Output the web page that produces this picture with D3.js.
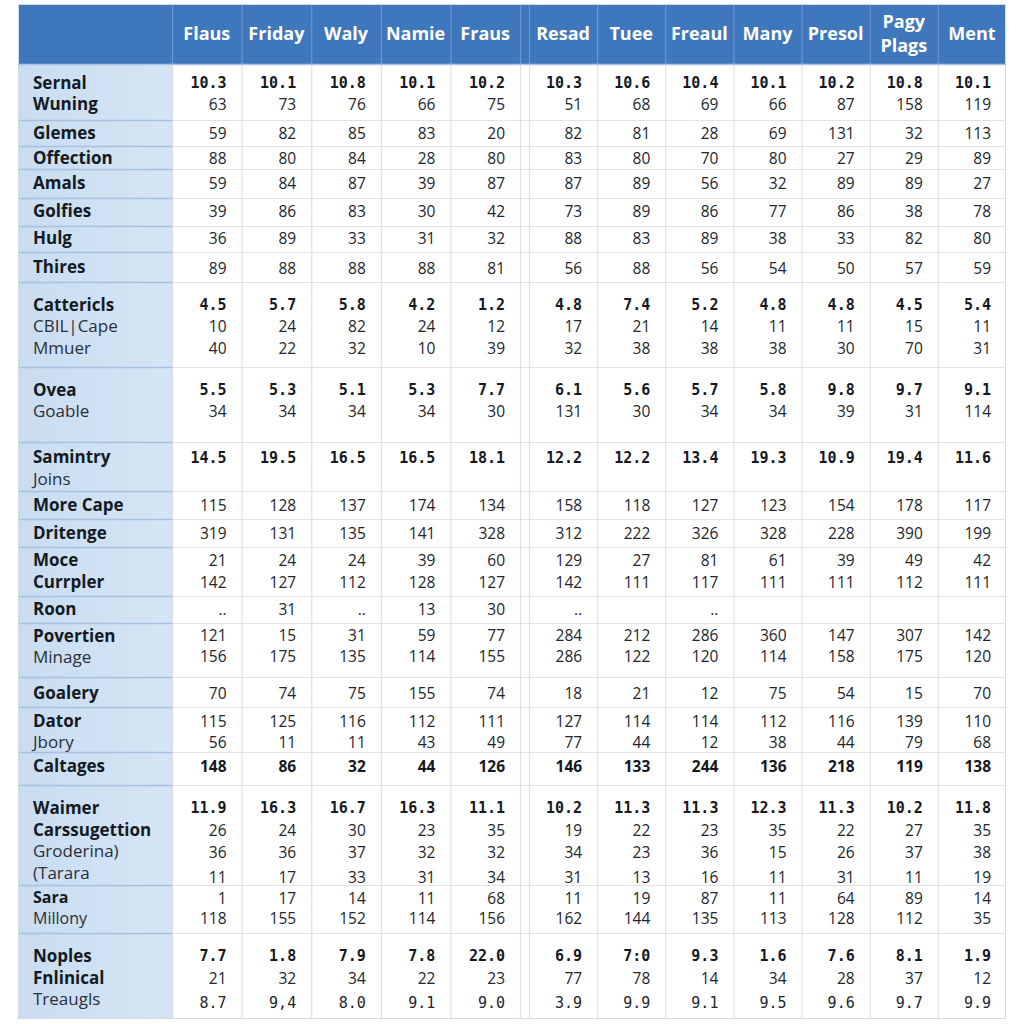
<!DOCTYPE html>
<html>
<head>
<meta charset="utf-8">
<script src="https://cdn.jsdelivr.net/npm/d3@7"></script>
<style>
  html, body { margin: 0; padding: 0; background: #ffffff; }
  svg { display: block; }
</style>
</head>
<body>
<svg id="chart" width="1024" height="1024"></svg>
<script>
// ---------------- DATA ----------------
const leftColumns  = ["Flaus", "Friday", "Waly", "Namie", "Fraus"];
const rightColumns = ["Resad", "Tuee", "Freaul", "Many", "Presol", "Pagy\nPlags", "Ment"];

// row-group labels
const labelsSernal   = ["Sernal", "Wuning"];
const labelsGlemes   = ["Glemes"];
const labelsOffect   = ["Offection"];
const labelsAmals    = ["Amals"];
const labelsGolfies  = ["Golfies"];
const labelsHulg     = ["Hulg"];
const labelsThires   = ["Thires"];
const labelsCatter   = ["Cattericls", "CBIL|Cape", "Mmuer"];
const labelsOvea     = ["Ovea", "Goable"];
const labelsSamin    = ["Samintry", "Joins"];
const labelsMoreCape = ["More Cape"];
const labelsDriten   = ["Dritenge"];
const labelsMoce     = ["Moce", "Currpler"];
const labelsRoon     = ["Roon"];
const labelsPovert   = ["Povertien", "Minage"];
const labelsGoalery  = ["Goalery"];
const labelsDator    = ["Dator", "Jbory"];
const labelsCaltag   = ["Caltages"];
const labelsWaimer   = ["Waimer", "Carssugettion", "Groderina)", "(Tarara"];
const labelsSara     = ["Sara", "Millony"];
const labelsNoples   = ["Noples", "Fnlinical", "Treaugls"];

// values (as printed)
const sernal1   = ["10.3","10.1","10.8","10.1","10.2","10.3","10.6","10.4","10.1","10.2","10.8","10.1"];
const sernal2   = ["63","73","76","66","75","51","68","69","66","87","158","119"];
const glemes    = ["59","82","85","83","20","82","81","28","69","131","32","113"];
const offection = ["88","80","84","28","80","83","80","70","80","27","29","89"];
const amals     = ["59","84","87","39","87","87","89","56","32","89","89","27"];
const golfies   = ["39","86","83","30","42","73","89","86","77","86","38","78"];
const hulg      = ["36","89","33","31","32","88","83","89","38","33","82","80"];
const thires    = ["89","88","88","88","81","56","88","56","54","50","57","59"];
const catter1   = ["4.5","5.7","5.8","4.2","1.2","4.8","7.4","5.2","4.8","4.8","4.5","5.4"];
const catter2   = ["10","24","82","24","12","17","21","14","11","11","15","11"];
const catter3   = ["40","22","32","10","39","32","38","38","38","30","70","31"];
const ovea1     = ["5.5","5.3","5.1","5.3","7.7","6.1","5.6","5.7","5.8","9.8","9.7","9.1"];
const ovea2     = ["34","34","34","34","30","131","30","34","34","39","31","114"];
const samintry  = ["14.5","19.5","16.5","16.5","18.1","12.2","12.2","13.4","19.3","10.9","19.4","11.6"];
const moreCape  = ["115","128","137","174","134","158","118","127","123","154","178","117"];
const dritenge  = ["319","131","135","141","328","312","222","326","328","228","390","199"];
const moce1     = ["21","24","24","39","60","129","27","81","61","39","49","42"];
const moce2     = ["142","127","112","128","127","142","111","117","111","111","112","111"];
const roon      = ["..","31","..","13","30","..","","..","","","",""];
const povert1   = ["121","15","31","59","77","284","212","286","360","147","307","142"];
const povert2   = ["156","175","135","114","155","286","122","120","114","158","175","120"];
const goalery   = ["70","74","75","155","74","18","21","12","75","54","15","70"];
const dator1    = ["115","125","116","112","111","127","114","114","112","116","139","110"];
const dator2    = ["56","11","11","43","49","77","44","12","38","44","79","68"];
const caltages  = ["148","86","32","44","126","146","133","244","136","218","119","138"];
const waimer1   = ["11.9","16.3","16.7","16.3","11.1","10.2","11.3","11.3","12.3","11.3","10.2","11.8"];
const waimer2   = ["26","24","30","23","35","19","22","23","35","22","27","35"];
const waimer3   = ["36","36","37","32","32","34","23","36","15","26","37","38"];
const waimer4   = ["11","17","33","31","34","31","13","16","11","31","11","19"];
const sara1     = ["1","17","14","11","68","11","19","87","11","64","89","14"];
const sara2     = ["118","155","152","114","156","162","144","135","113","128","112","35"];
const noples1   = ["7.7","1.8","7.9","7.8","22.0","6.9","7:0","9.3","1.6","7.6","8.1","1.9"];
const noples2   = ["21","32","34","22","23","77","78","14","34","28","37","12"];
const noples3   = ["8.7","9,4","8.0","9.1","9.0","3.9","9.9","9.1","9.5","9.6","9.7","9.9"];

// ---------------- TABLE SPEC (built from data) ----------------
// label styles: b = bold, r = regular ; value styles: mb = mono bold, m = mono, s = sans, sb = sans bold
const groups = [
  { labels: labelsSernal,   lw: ["b","b"],         lines: [[sernal1,"mb"],[sernal2,"s"]],
    edge: [64,120],  ly: [83,104],  vy: [83,104] },
  { labels: labelsGlemes,   lw: ["b"], lines: [[glemes,"s"]],    edge: [120,146], ly: [133], vy: [133] },
  { labels: labelsOffect,   lw: ["b"], lines: [[offection,"s"]], edge: [146,169], ly: [158], vy: [158] },
  { labels: labelsAmals,    lw: ["b"], lines: [[amals,"s"]],     edge: [169,198], ly: [183], vy: [183] },
  { labels: labelsGolfies,  lw: ["b"], lines: [[golfies,"s"]],   edge: [198,226], ly: [211], vy: [211] },
  { labels: labelsHulg,     lw: ["b"], lines: [[hulg,"s"]],      edge: [226,252], ly: [238], vy: [238] },
  { labels: labelsThires,   lw: ["b"], lines: [[thires,"s"]],    edge: [252,282], ly: [267], vy: [268] },
  { labels: labelsCatter,   lw: ["b","r","r"], lines: [[catter1,"mb"],[catter2,"s"],[catter3,"s"]],
    edge: [282,367], ly: [305,326,348], vy: [305,326,348] },
  { labels: labelsOvea,     lw: ["b","r"], lines: [[ovea1,"mb"],[ovea2,"s"]],
    edge: [367,442], ly: [390,411], vy: [390,411] },
  { labels: labelsSamin,    lw: ["b","r"], lines: [[samintry,"mb"]],
    edge: [442,491], ly: [457,479], vy: [458] },
  { labels: labelsMoreCape, lw: ["b"], lines: [[moreCape,"s"]],  edge: [491,519], ly: [505], vy: [505] },
  { labels: labelsDriten,   lw: ["b"], lines: [[dritenge,"s"]],  edge: [519,547], ly: [533], vy: [533] },
  { labels: labelsMoce,     lw: ["b","b"], lines: [[moce1,"s"],[moce2,"s"]],
    edge: [547,596], ly: [560,582], vy: [560,582] },
  { labels: labelsRoon,     lw: ["b"], lines: [[roon,"s"]],      edge: [596,623], ly: [609], vy: [609] },
  { labels: labelsPovert,   lw: ["b","r"], lines: [[povert1,"s"],[povert2,"s"]],
    edge: [623,677], ly: [636,657], vy: [635,656] },
  { labels: labelsGoalery,  lw: ["b"], lines: [[goalery,"s"]],   edge: [677,707], ly: [693], vy: [693] },
  { labels: labelsDator,    lw: ["b","r"], lines: [[dator1,"s"],[dator2,"s"]],
    edge: [707,752], ly: [721,742], vy: [721,742] },
  { labels: labelsCaltag,   lw: ["b"], lines: [[caltages,"sb"]], edge: [752,785], ly: [766], vy: [766] },
  { labels: labelsWaimer,   lw: ["b","b","r","r"],
    lines: [[waimer1,"mb"],[waimer2,"s"],[waimer3,"s"],[waimer4,"s"]],
    edge: [785,885], ly: [808,830,851,873], vy: [808,830,852,877] },
  { labels: labelsSara,     lw: ["b","r"], lines: [[sara1,"s"],[sara2,"s"]],
    edge: [885,933], ly: [897,918], vy: [898,918] },
  { labels: labelsNoples,   lw: ["b","b","r"], lines: [[noples1,"mb"],[noples2,"s"],[noples3,"m"]],
    edge: [933,1019], ly: [956,978,999], vy: [956,978,1003] }
];

// ---------------- LAYOUT ----------------
const tableLeft = 18, tableRight = 1006, headTop = 4, headBottom = 64;
const labelRight = 172;
const xLeft  = d3.scaleBand().domain(leftColumns).range([labelRight, 520]);
const xRight = d3.scaleBand().domain(rightColumns).range([529, tableRight]);
const allCols = leftColumns.concat(rightColumns);
const colX = c => leftColumns.includes(c) ? xLeft(c) : xRight(c);
const colW = c => leftColumns.includes(c) ? xLeft.bandwidth() : xRight.bandwidth();
const tableBottom = groups[groups.length - 1].edge[1];

const svg = d3.select("#chart");
const defs = svg.append("defs");
const grad = defs.append("linearGradient").attr("id", "lblGrad").attr("x1", 0).attr("x2", 1);
grad.append("stop").attr("offset", "0%").attr("stop-color", "#c9dcf1");
grad.append("stop").attr("offset", "100%").attr("stop-color", "#d6e5f5");

// label column background
svg.append("rect").attr("x", tableLeft).attr("y", headBottom)
  .attr("width", labelRight - tableLeft).attr("height", tableBottom - headBottom)
  .attr("fill", "url(#lblGrad)");

// header
svg.append("rect").attr("x", tableLeft).attr("y", headTop)
  .attr("width", tableRight - tableLeft).attr("height", headBottom - headTop)
  .attr("fill", "#3f77bc");

// horizontal separators
const hLines = groups.slice(0, -1).map(g => g.edge[1]);
svg.append("g").selectAll("line.hd").data(hLines).join("line")
  .attr("x1", labelRight).attr("x2", tableRight).attr("y1", d => d + 0.5).attr("y2", d => d + 0.5)
  .attr("stroke", "#dfe2e6").attr("stroke-width", 1.2);
svg.append("g").selectAll("line.hl").data(hLines).join("line")
  .attr("x1", tableLeft).attr("x2", labelRight).attr("y1", d => d + 0.5).attr("y2", d => d + 0.5)
  .attr("stroke", "#a7c0dd").attr("stroke-width", 1.5);

// vertical separators
const vEdges = allCols.map(c => colX(c) + colW(c)).filter(x => x < tableRight - 1);
vEdges.push(529);
svg.append("g").selectAll("line.v").data(vEdges).join("line")
  .attr("x1", d => d + 0.5).attr("x2", d => d + 0.5)
  .attr("y1", headBottom).attr("y2", tableBottom)
  .attr("stroke", "#dfe2e6").attr("stroke-width", 1.2);
svg.append("line").attr("x1", labelRight + 0.5).attr("x2", labelRight + 0.5)
  .attr("y1", headBottom).attr("y2", tableBottom).attr("stroke", "#d4dbe4").attr("stroke-width", 1);
// header dividers
svg.append("g").selectAll("line.hv").data([labelRight].concat(vEdges)).join("line")
  .attr("x1", d => d + 0.5).attr("x2", d => d + 0.5)
  .attr("y1", headTop).attr("y2", headBottom)
  .attr("stroke", "#6a96cf").attr("stroke-width", 1.2);
// outer border
svg.append("rect").attr("x", tableLeft + 0.5).attr("y", headTop + 0.5)
  .attr("width", tableRight - tableLeft - 1).attr("height", tableBottom - headTop - 1)
  .attr("fill", "none").attr("stroke", "#d5dbe2").attr("stroke-width", 1);
svg.append("line").attr("x1", tableLeft).attr("x2", tableRight)
  .attr("y1", headBottom + 0.5).attr("y2", headBottom + 0.5).attr("stroke", "#a9c3e2").attr("stroke-width", 1.5);

// header texts
const sans = "'Open Sans', 'Noto Sans', sans-serif";
const mono = "'DejaVu Sans Mono', monospace";
const headG = svg.append("g");
allCols.forEach(c => {
  const parts = c.split("\n");
  const cx = colX(c) + colW(c) / 2;
  const cy = (headTop + headBottom) / 2;
  parts.forEach((p, i) => {
    headG.append("text").attr("x", cx)
      .attr("y", cy + (i - (parts.length - 1) / 2) * 24)
      .attr("dy", "0.36em").attr("text-anchor", "middle")
      .attr("fill", "#ffffff").attr("font-family", sans)
      .attr("font-weight", 700).attr("font-size", 18)
      .text(p);
  });
});

// labels and values
const body = svg.append("g");
groups.forEach(g => {
  g.labels.forEach((lab, i) => {
    body.append("text").attr("x", 33).attr("y", g.ly[i]).attr("dy", "0.36em")
      .attr("fill", g.lw[i] === "b" ? "#141a22" : "#2a3038")
      .attr("font-family", sans)
      .attr("font-weight", g.lw[i] === "b" ? 700 : 400)
      .attr("font-size", g.labels === labelsSara ? 16 : 17)
      .text(lab);
  });
  g.lines.forEach(([vals, style], li) => {
    body.append("g").selectAll("text").data(allCols).join("text")
      .attr("x", c => colX(c) + colW(c) - 15)
      .attr("y", g.vy[li]).attr("dy", "0.36em")
      .attr("text-anchor", "end")
      .attr("fill", style === "mb" || style === "sb" ? "#15191f" : "#22262c")
      .attr("font-family", style === "mb" || style === "m" ? mono : sans)
      .attr("font-weight", style === "mb" || style === "sb" ? 700 : 400)
      .attr("font-size", style === "mb" || style === "m" ? 15 : 15.5)
      .text((c, j) => vals[j]);
  });
});
</script>
</body>
</html>
